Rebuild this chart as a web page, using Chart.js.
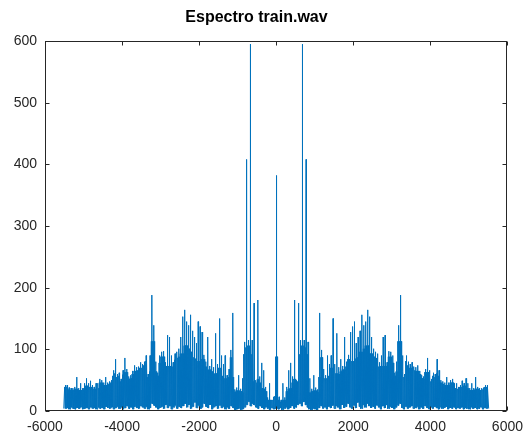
<!DOCTYPE html>
<html lang="es">
<head>
    <meta charset="UTF-8">
    <title>Espectro train.wav</title>
    <script src="https://cdn.jsdelivr.net/npm/chart.js"></script>
    <style>
        body { margin: 0; background: #fff; }
        canvas { display: block; }
    </style>
</head>
<body>
    <canvas id="spectrum" width="531" height="436"></canvas>

    <script>
        // Half spectrum (0 .. fs/2) in 50 Hz bins, mirrored for negative freqs
        const sampleRate = 11025;
        const binHz = 50;
        const dcPeak = 382;
        // tallest spike in each bin
        const peakHalf = [
            88, 23, 18, 45, 22, 39, 66, 78, 56, 180,
            50, 175, 115, 595, 115, 408, 112, 53, 36, 58,
            38, 35, 159, 99, 68, 58, 90, 76, 90, 150,
            76, 126, 71, 84, 73, 120, 80, 91, 128, 137,
            145, 110, 120, 130, 156, 139, 145, 164, 153, 120,
            101, 96, 93, 79, 90, 120, 123, 79, 97, 96,
            90, 62, 80, 139, 188, 90, 60, 90, 80, 76,
            79, 72, 71, 74, 65, 58, 56, 68, 86, 66,
            52, 62, 60, 84, 66, 50, 48, 46, 55, 46,
            50, 52, 45, 45, 39, 42, 49, 45, 53, 45,
            37, 45, 37, 55, 39, 37, 37, 38, 42, 42
        ];
        // level of the dense noise body in each bin
        const bodyHalf = [
            24, 18, 15, 18, 18, 32, 36, 37, 46, 52,
            46, 48, 92, 106, 106, 103, 92, 30, 32, 33,
            33, 31, 55, 87, 55, 53, 53, 57, 70, 70,
            61, 61, 60, 64, 67, 67, 72, 84, 84, 81,
            81, 85, 87, 96, 96, 101, 106, 106, 93, 93,
            88, 86, 83, 72, 73, 73, 73, 73, 88, 88,
            78, 57, 64, 113, 113, 64, 55, 81, 74, 70,
            70, 66, 65, 65, 60, 53, 52, 63, 63, 59,
            48, 57, 55, 61, 57, 46, 44, 42, 42, 42,
            46, 46, 37, 36, 36, 39, 39, 41, 41, 37,
            34, 34, 34, 36, 36, 34, 34, 35, 39, 39
        ];
        // floor of the noise in each bin
        const lowHalf = [
            4, 3, 5, 2, 4, 6, 3, 5, 8, 4,
            6, 10, 12, 8, 15, 10, 6, 3, 2, 4,
            3, 2, 5, 8, 4, 6, 3, 7, 5, 9,
            4, 8, 6, 3, 10, 5, 7, 12, 6, 4,
            9, 5, 14, 7, 4, 10, 6, 12, 8, 5,
            7, 4, 9, 6, 3, 8, 5, 10, 4, 7,
            5, 3, 6, 9, 12, 5, 3, 7, 4, 6,
            8, 4, 5, 7, 3, 6, 4, 8, 5, 3,
            6, 4, 7, 5, 3, 6, 4, 5, 7, 3,
            5, 4, 6, 3, 5, 4, 6, 3, 5, 4,
            3, 6, 4, 5, 3, 4, 6, 3, 5, 4
        ];
        const xTicks = [-6000, -4000, -2000, 0, 2000, 4000, 6000];
        const yTicks = [0, 100, 200, 300, 400, 500, 600];

        // each bin is traced as floor -> body -> floor -> peak -> floor -> body
        const posHalf = [];
        peakHalf.forEach((peak, k) => {
            const f0 = k * binHz;
            posHalf.push({ x: f0, y: lowHalf[k] });
            posHalf.push({ x: f0 + 10, y: bodyHalf[k] });
            posHalf.push({ x: f0 + 20, y: lowHalf[k] });
            posHalf.push({ x: f0 + 25, y: peak });
            posHalf.push({ x: f0 + 30, y: lowHalf[k] });
            posHalf.push({ x: f0 + 40, y: bodyHalf[k] });
        });
        posHalf.push({ x: sampleRate / 2, y: lowHalf[lowHalf.length - 1] });
        const rightHalf = posHalf.slice(1);
        const leftHalf = rightHalf.slice().reverse().map(p => ({ x: -p.x, y: p.y }));
        const points = [
            ...leftHalf,
            { x: -3, y: lowHalf[0] },
            { x: 0, y: dcPeak },
            { x: 3, y: lowHalf[0] },
            ...rightHalf
        ];

        const axisColor = '#262626';

        // octave-like box with inward ticks on all four sides
        const axisBox = {
            id: 'axisBox',
            afterDatasetsDraw(chart) {
                const { ctx, chartArea: a, scales: { x, y } } = chart;
                const L = Math.round(a.left) + 0.5, R = Math.round(a.right) - 0.5;
                const T = Math.round(a.top) + 0.5, B = Math.round(a.bottom) - 0.5;
                const len = 4;
                ctx.save();
                ctx.strokeStyle = axisColor;
                ctx.lineWidth = 1;
                ctx.strokeRect(L, T, R - L, B - T);
                ctx.beginPath();
                xTicks.forEach(v => {
                    const px = Math.round(x.getPixelForValue(v)) + 0.5;
                    ctx.moveTo(px, B); ctx.lineTo(px, B - len);
                    ctx.moveTo(px, T); ctx.lineTo(px, T + len);
                });
                yTicks.forEach(v => {
                    const py = Math.round(y.getPixelForValue(v)) + 0.5;
                    ctx.moveTo(L, py); ctx.lineTo(L + len, py);
                    ctx.moveTo(R, py); ctx.lineTo(R - len, py);
                });
                ctx.stroke();
                ctx.restore();
            }
        };

        const fontFamily = '"Liberation Sans", Arial, sans-serif';
        const tickFont = { family: fontFamily, size: 14 };

        new Chart(document.getElementById('spectrum'), {
            type: 'scatter',
            data: {
                datasets: [{
                    label: 'Espectro',
                    data: points,
                    showLine: true,
                    borderColor: '#0072BD',
                    borderWidth: 1,
                    pointRadius: 0,
                    tension: 0,
                    fill: false
                }]
            },
            options: {
                responsive: false,
                animation: false,
                layout: { padding: { left: 0, right: 18, top: 0, bottom: 0 } },
                plugins: {
                    legend: { display: false },
                    tooltip: { enabled: false },
                    title: {
                        display: true,
                        text: 'Espectro train.wav',
                        color: '#000',
                        font: { family: fontFamily, size: 16, weight: 'bold' },
                        padding: { top: 7.5, bottom: 14.3 }
                    }
                },
                scales: {
                    x: {
                        type: 'linear',
                        min: -6000,
                        max: 6000,
                        afterFit: s => { s.height = 25; },
                        afterBuildTicks: s => { s.ticks = xTicks.map(v => ({ value: v })); },
                        grid: { display: false, drawTicks: false },
                        border: { display: false },
                        ticks: { color: axisColor, font: tickFont, padding: 8, maxRotation: 0, callback: v => String(v) }
                    },
                    y: {
                        type: 'linear',
                        min: 0,
                        max: 600,
                        afterFit: s => { s.width = 45; },
                        afterBuildTicks: s => { s.ticks = yTicks.map(v => ({ value: v })); },
                        grid: { display: false, drawTicks: false },
                        border: { display: false },
                        ticks: { color: axisColor, font: tickFont, padding: 8, callback: v => String(v) }
                    }
                }
            },
            plugins: [axisBox]
        });
    </script>
</body>
</html>
